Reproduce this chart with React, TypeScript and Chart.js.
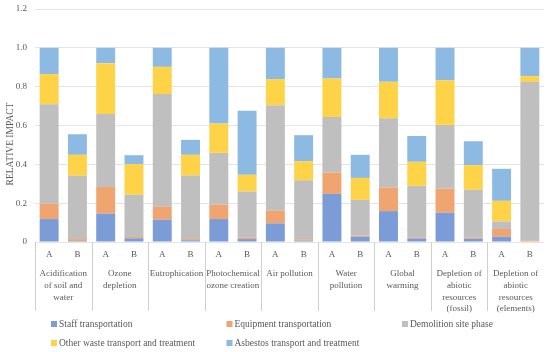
import React, { useEffect, useRef } from "react";
import { Chart, registerables } from "chart.js";

Chart.register(...registerables);

const barLabels = ["A", "B", "A", "B", "A", "B", "A", "B", "A", "B", "A", "B", "A", "B", "A", "B", "A", "B"];
const groupLabels = [
  ["Acidification", "of soil and", "water"],
  ["Ozone", "depletion"],
  ["Eutrophication"],
  ["Photochemical", "ozone creation"],
  ["Air pollution"],
  ["Water", "pollution"],
  ["Global", "warming"],
  ["Depletion of", "abiotic", "resources", "(fossil)"],
  ["Depletion of", "abiotic", "resources", "(elements)"],
];
const staff = [0.118, 0.005, 0.146, 0.019, 0.115, 0.009, 0.118, 0.015, 0.096, 0.007, 0.248, 0.027, 0.159, 0.019, 0.151, 0.017, 0.027, 0.0];
const equipment = [0.079, 0.01, 0.137, 0.007, 0.067, 0.006, 0.074, 0.007, 0.065, 0.007, 0.11, 0.006, 0.122, 0.005, 0.123, 0.007, 0.04, 0.007];
const demolition = [0.512, 0.326, 0.376, 0.217, 0.58, 0.327, 0.267, 0.238, 0.543, 0.304, 0.286, 0.184, 0.356, 0.265, 0.329, 0.245, 0.039, 0.818];
const otherWaste = [0.156, 0.108, 0.262, 0.158, 0.14, 0.107, 0.151, 0.086, 0.135, 0.098, 0.198, 0.113, 0.188, 0.124, 0.229, 0.127, 0.106, 0.029];
const asbestos = [0.135, 0.106, 0.079, 0.046, 0.098, 0.077, 0.39, 0.33, 0.161, 0.134, 0.158, 0.119, 0.175, 0.133, 0.168, 0.123, 0.165, 0.146];
const yTicks = [0, 0.2, 0.4, 0.6, 0.8, 1, 1.2];

const FONT = "'Liberation Serif', 'DejaVu Serif', serif";
const TEXT = "#595959";

const decorPlugin = {
  id: "decor",
  afterDraw(chart: any) {
    const { ctx, chartArea } = chart;
    const x = chart.scales.x;
    ctx.save();
    ctx.strokeStyle = "#D0D0D0";
    ctx.lineWidth = 1;
    const n = barLabels.length;
    const half = (x.getPixelForValue(1) - x.getPixelForValue(0)) / 2;
    for (let i = 0; i < n; i += 2) {
      const px = Math.round(x.getPixelForValue(i) - half) + 0.5;
      ctx.beginPath();
      ctx.moveTo(px, chartArea.bottom);
      ctx.lineTo(px, chartArea.bottom + 69);
      ctx.stroke();
    }
    ctx.fillStyle = TEXT;
    ctx.font = `9.5px ${FONT}`;
    ctx.textAlign = "center";
    ctx.textBaseline = "middle";
    ctx.translate(10, 144);
    ctx.rotate(-Math.PI / 2);
    ctx.fillText("RELATIVE IMPACT", 0, 0);
    ctx.restore();

    ctx.save();
    ctx.font = `9.5px ${FONT}`;
    ctx.textBaseline = "middle";
    ctx.textAlign = "left";
    chart.data.datasets.forEach((ds: any, i: number) => {
      const col = i < 3 ? i : i - 3;
      const row = i < 3 ? 0 : 1;
      const lx = 51 + col * 175.5;
      const ly = 324 + row * 19;
      ctx.fillStyle = ds.backgroundColor;
      ctx.fillRect(lx, ly - 3, 6, 6);
      ctx.fillStyle = TEXT;
      ctx.fillText(ds.label, lx + 8, ly);
    });
    ctx.restore();
  },
};

export default function App() {
  const ref = useRef<HTMLCanvasElement | null>(null);
  useEffect(() => {
    document.body.style.margin = "0";
    const canvas = ref.current;
    if (!canvas) return;
    const mk = (label: string, data: number[], color: string) => ({
      label,
      data,
      backgroundColor: color,
      borderWidth: 0,
      barPercentage: 0.67,
      categoryPercentage: 1,
    });
    const chart = new Chart(canvas, {
      type: "bar",
      data: {
        labels: barLabels,
        datasets: [
          mk("Staff transportation", staff, "#7B9CD6"),
          mk("Equipment transportation", equipment, "#F0A470"),
          mk("Demolition site phase", demolition, "#BFBFBF"),
          mk("Other waste transport and treatment", otherWaste, "#FFD347"),
          mk("Asbestos transport and treatment", asbestos, "#8DBAE3"),
        ],
      },
      options: {
        animation: false,
        responsive: false,
        maintainAspectRatio: false,
        layout: { padding: { top: 9, right: 6, bottom: 32, left: 0 } },
        plugins: { legend: { display: false }, tooltip: { enabled: false } },
        scales: {
          x: {
            stacked: true,
            grid: { display: false, drawTicks: false },
            border: { display: false },
            ticks: { color: TEXT, font: { family: FONT, size: 9 }, padding: 7, autoSkip: false, maxRotation: 0 },
            afterFit: (s: any) => { s.height = 22; },
          },
          x2: {
            type: "category",
            labels: groupLabels as any,
            position: "bottom",
            offset: true,
            grid: { display: false, drawTicks: false },
            border: { display: false },
            ticks: { color: TEXT, font: { family: FONT, size: 9, lineHeight: 1.3 }, padding: 4, autoSkip: false, maxRotation: 0 },
            afterFit: (s: any) => { s.height = 56; },
          },
          y: {
            stacked: true,
            min: 0,
            max: 1.2,
            afterBuildTicks: (s: any) => { s.ticks = yTicks.map((v) => ({ value: v })); },
            grid: { color: "#E4E4E4", drawTicks: true, tickLength: 6, tickColor: "rgba(0,0,0,0)" },
            border: { display: false },
            ticks: { color: TEXT, font: { family: FONT, size: 9 }, padding: 2 },
            afterFit: (s: any) => { s.width = 35; },
          },
        },
      },
      plugins: [decorPlugin],
    });
    return () => chart.destroy();
  }, []);
  return (
    <div style={{ width: 550, height: 352 }}>
      <canvas ref={ref} width={550} height={352} style={{ display: "block", width: 550, height: 352 }} />
    </div>
  );
}
